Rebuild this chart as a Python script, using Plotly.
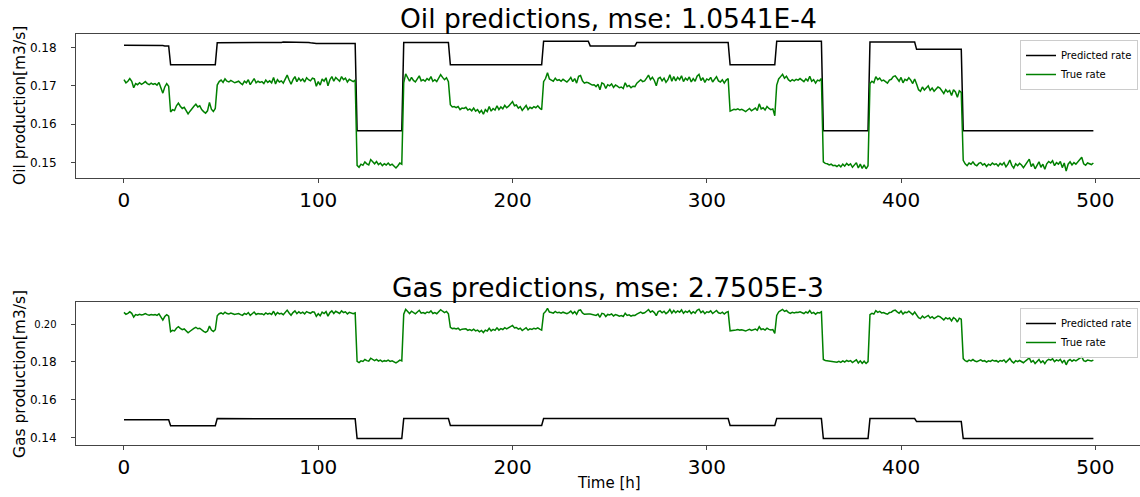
import plotly.graph_objects as go

hours = list(range(500))

oil_true = [
 0.1716,0.1708,0.1712,0.1719,0.1712,0.1695,0.1706,0.1703,0.1708,0.1704,0.1707,0.1711,0.1706,0.1703,0.1707,0.1704,0.1706,0.1702,0.1709,0.1694,0.1681,0.1697,0.1706,0.1699,
 0.1632,0.1638,0.1636,0.1648,0.1655,0.1647,0.1641,0.1644,0.1635,0.1627,0.1634,0.1642,0.1647,0.1652,0.1645,0.1648,0.1638,0.1633,0.1629,0.1635,0.1657,0.1639,0.1633,0.1641,
 0.1702,0.1711,0.1715,0.1709,0.1718,0.1712,0.1710,0.1714,0.1711,0.1708,0.1710,0.1712,0.1707,0.1703,0.1712,0.1708,0.1716,0.1703,0.1711,0.1719,0.1708,0.1712,0.1709,0.1711,
 0.1706,0.1715,0.1709,0.1713,0.1708,0.1722,0.1705,0.1716,0.1710,0.1713,0.1707,0.1719,0.1728,0.1715,0.1704,0.1716,0.1724,0.1711,0.1720,0.1713,0.1718,0.1710,0.1721,0.1716,
 0.1713,0.1720,0.1718,0.1699,0.1711,0.1702,0.1718,0.1712,0.1721,0.1700,0.1716,0.1724,0.1712,0.1722,0.1718,0.1712,0.1724,0.1716,0.1720,0.1710,0.1717,0.1714,0.1711,0.1715,
 0.1493,0.1488,0.1496,0.1493,0.1502,0.1497,0.1494,0.1508,0.1501,0.1497,0.1503,0.1495,0.1499,0.1492,0.1497,0.1494,0.1499,0.1493,0.1496,0.1490,0.1486,0.1492,0.1499,0.1496,
 0.1708,0.1731,0.1720,0.1712,0.1722,0.1714,0.1710,0.1719,0.1726,0.1713,0.1716,0.1712,0.1719,0.1715,0.1724,0.1712,0.1716,0.1711,0.1719,0.1729,0.1722,0.1716,0.1721,0.1711,
 0.1651,0.1645,0.1646,0.1643,0.1646,0.1638,0.1642,0.1641,0.1644,0.1637,0.1640,0.1635,0.1642,0.1634,0.1638,0.1630,0.1636,0.1626,0.1638,0.1633,0.1646,0.1634,0.1641,0.1637,
 0.1648,0.1638,0.1645,0.1640,0.1649,0.1643,0.1647,0.1652,0.1659,0.1648,0.1650,0.1642,0.1646,0.1636,0.1643,0.1649,0.1638,0.1644,0.1641,0.1646,0.1643,0.1648,0.1642,0.1638,
 0.1711,0.1719,0.1734,0.1718,0.1715,0.1712,0.1720,0.1714,0.1716,0.1712,0.1717,0.1714,0.1710,0.1715,0.1722,0.1711,0.1719,0.1707,0.1725,0.1727,0.1713,0.1707,0.1709,0.1708,
 0.1704,0.1702,0.1703,0.1698,0.1704,0.1690,0.1708,0.1705,0.1693,0.1703,0.1700,0.1705,0.1696,0.1702,0.1699,0.1695,0.1697,0.1693,0.1708,0.1698,0.1701,0.1695,0.1699,0.1698,
 0.1707,0.1712,0.1716,0.1711,0.1713,0.1720,0.1728,0.1716,0.1722,0.1714,0.1700,0.1719,0.1722,0.1713,0.1720,0.1709,0.1716,0.1729,0.1712,0.1724,0.1713,0.1722,0.1716,0.1726,
 0.1711,0.1720,0.1715,0.1723,0.1710,0.1719,0.1712,0.1725,0.1730,0.1714,0.1721,0.1709,0.1718,0.1715,0.1722,0.1710,0.1716,0.1724,0.1713,0.1710,0.1716,0.1707,0.1715,0.1719,
 0.1634,0.1636,0.1639,0.1638,0.1640,0.1637,0.1639,0.1636,0.1633,0.1637,0.1641,0.1635,0.1639,0.1642,0.1636,0.1653,0.1640,0.1643,0.1637,0.1646,0.1641,0.1638,0.1640,0.1622,
 0.1702,0.1718,0.1724,0.1730,0.1720,0.1725,0.1716,0.1712,0.1716,0.1713,0.1717,0.1715,0.1719,0.1714,0.1711,0.1718,0.1713,0.1725,0.1712,0.1716,0.1707,0.1715,0.1713,0.1719,
 0.1502,0.1498,0.1497,0.1494,0.1496,0.1492,0.1493,0.1490,0.1494,0.1489,0.1496,0.1491,0.1498,0.1493,0.1497,0.1488,0.1494,0.1500,0.1486,0.1496,0.1485,0.1494,0.1484,0.1492,
 0.1706,0.1712,0.1708,0.1724,0.1716,0.1720,0.1713,0.1715,0.1711,0.1707,0.1715,0.1717,0.1724,0.1726,0.1719,0.1712,0.1722,0.1708,0.1717,0.1714,0.1721,0.1715,0.1706,0.1718,
 0.1705,0.1690,0.1686,0.1697,0.1689,0.1694,0.1700,0.1688,0.1694,0.1686,0.1691,0.1697,0.1694,0.1687,0.1680,0.1690,0.1684,0.1688,0.1675,0.1690,0.1684,0.1670,0.1687,0.1683,
 0.1506,0.1497,0.1492,0.1499,0.1496,0.1502,0.1495,0.1492,0.1498,0.1500,0.1494,0.1497,0.1490,0.1496,0.1493,0.1499,0.1495,0.1497,0.1491,0.1498,0.1494,0.1500,0.1489,0.1496,
 0.1507,0.1493,0.1486,0.1497,0.1492,0.1498,0.1494,0.1487,0.1495,0.1500,0.1509,0.1490,0.1497,0.1484,0.1493,0.1502,0.1488,0.1496,0.1483,0.1497,0.1503,0.1499,0.1505,0.1492,
 0.1500,0.1496,0.1503,0.1487,0.1499,0.1478,0.1496,0.1502,0.1494,0.1500,0.1496,0.1503,0.1508,0.1514,0.1497,0.1493,0.1499,0.1496,0.1495,0.1499,
]

oil_pred = [
 0.1806,0.1806,0.1806,0.1806,0.1806,0.1805, 0.1805,0.1805,0.1805,0.1805,0.1805,0.1805, 0.1805,0.1805,0.1805,0.1805,0.1805,0.1805, 0.1805,0.1805,0.1805,0.1804,0.1804,0.1804,
 0.1755,0.1755,0.1755,0.1754,0.1755,0.1755, 0.1755,0.1755,0.1755,0.1755,0.1755,0.1755, 0.1755,0.1755,0.1755,0.1755,0.1755,0.1755, 0.1755,0.1755,0.1755,0.1755,0.1755,0.1755,
 0.1812,0.1812,0.1812,0.1812,0.1812,0.1812, 0.1812,0.1812,0.1812,0.1812,0.1812,0.1812, 0.1812,0.1812,0.1812,0.1812,0.1812,0.1812, 0.1812,0.1812,0.1813,0.1813,0.1813,0.1813,
 0.1813,0.1813,0.1813,0.1813,0.1813,0.1813, 0.1813,0.1813,0.1813,0.1813,0.1814,0.1814, 0.1814,0.1814,0.1814,0.1813,0.1813,0.1813, 0.1813,0.1813,0.1813,0.1813,0.1813,0.1813,
 0.1812,0.1811,0.1810,0.1810,0.1810,0.1810, 0.1810,0.1810,0.1810,0.1810,0.1810,0.1810, 0.1810,0.1810,0.1810,0.1810,0.1810,0.1810, 0.1810,0.1810,0.1810,0.1810,0.1810,0.1810,
 0.1583,0.1583,0.1583,0.1583,0.1583,0.1583, 0.1583,0.1583,0.1583,0.1583,0.1583,0.1583, 0.1583,0.1583,0.1583,0.1583,0.1583,0.1583, 0.1583,0.1583,0.1583,0.1583,0.1583,0.1583,
 0.1813,0.1813,0.1813,0.1813,0.1813,0.1813, 0.1813,0.1813,0.1813,0.1813,0.1813,0.1813, 0.1813,0.1813,0.1813,0.1813,0.1813,0.1813, 0.1813,0.1813,0.1813,0.1813,0.1813,0.1813,
 0.1755,0.1755,0.1755,0.1755,0.1755,0.1755, 0.1755,0.1755,0.1755,0.1755,0.1755,0.1755, 0.1755,0.1755,0.1755,0.1755,0.1755,0.1755, 0.1755,0.1755,0.1755,0.1755,0.1755,0.1755,
 0.1755,0.1755,0.1755,0.1755,0.1755,0.1755, 0.1755,0.1755,0.1755,0.1755,0.1755,0.1755, 0.1755,0.1755,0.1755,0.1755,0.1755,0.1755, 0.1755,0.1755,0.1755,0.1755,0.1755,0.1755,
 0.1816,0.1816,0.1816,0.1816,0.1816,0.1816, 0.1816,0.1816,0.1816,0.1816,0.1816,0.1816, 0.1816,0.1816,0.1816,0.1816,0.1816,0.1816, 0.1816,0.1816,0.1816,0.1816,0.1816,0.1816,
 0.1804,0.1804,0.1804,0.1804,0.1804,0.1804, 0.1804,0.1804,0.1804,0.1804,0.1804,0.1804, 0.1804,0.1804,0.1804,0.1804,0.1804,0.1804, 0.1804,0.1804,0.1804,0.1804,0.1804,0.1804,
 0.1813,0.1813,0.1813,0.1813,0.1813,0.1813, 0.1813,0.1813,0.1813,0.1813,0.1813,0.1813, 0.1813,0.1813,0.1813,0.1813,0.1813,0.1813, 0.1813,0.1813,0.1813,0.1813,0.1813,0.1813,
 0.1813,0.1813,0.1813,0.1813,0.1813,0.1813, 0.1813,0.1813,0.1813,0.1813,0.1813,0.1813, 0.1813,0.1813,0.1813,0.1813,0.1813,0.1813, 0.1813,0.1813,0.1813,0.1813,0.1813,0.1813,
 0.1755,0.1755,0.1755,0.1755,0.1755,0.1755, 0.1755,0.1755,0.1755,0.1755,0.1755,0.1755, 0.1755,0.1755,0.1755,0.1755,0.1755,0.1755, 0.1755,0.1755,0.1755,0.1755,0.1755,0.1755,
 0.1816,0.1816,0.1816,0.1816,0.1816,0.1816, 0.1816,0.1816,0.1816,0.1816,0.1816,0.1816, 0.1816,0.1816,0.1816,0.1816,0.1816,0.1816, 0.1816,0.1816,0.1816,0.1816,0.1816,0.1816,
 0.1583,0.1583,0.1583,0.1583,0.1583,0.1583, 0.1583,0.1583,0.1583,0.1583,0.1583,0.1583, 0.1583,0.1583,0.1583,0.1583,0.1583,0.1583, 0.1583,0.1583,0.1583,0.1583,0.1583,0.1583,
 0.1814,0.1814,0.1814,0.1814,0.1814,0.1814, 0.1814,0.1814,0.1814,0.1814,0.1814,0.1814, 0.1814,0.1814,0.1814,0.1814,0.1814,0.1814, 0.1814,0.1814,0.1814,0.1814,0.1814,0.1814,
 0.1795,0.1795,0.1795,0.1795,0.1795,0.1795, 0.1795,0.1795,0.1795,0.1795,0.1795,0.1795, 0.1795,0.1795,0.1795,0.1795,0.1795,0.1795, 0.1795,0.1795,0.1795,0.1795,0.1795,0.1795,
 0.1583,0.1583,0.1583,0.1583,0.1583,0.1583, 0.1583,0.1583,0.1583,0.1583,0.1583,0.1583, 0.1583,0.1583,0.1583,0.1583,0.1583,0.1583, 0.1583,0.1583,0.1583,0.1583,0.1583,0.1583,
 0.1583,0.1583,0.1583,0.1583,0.1583,0.1583, 0.1583,0.1583,0.1583,0.1583,0.1583,0.1583, 0.1583,0.1583,0.1583,0.1583,0.1583,0.1583, 0.1583,0.1583,0.1583,0.1583,0.1583,0.1583,
 0.1583,0.1583,0.1583,0.1583,0.1583,0.1583, 0.1583,0.1583,0.1583,0.1583,0.1583,0.1583, 0.1583,0.1583,0.1583,0.1583,0.1583,0.1583, 0.1583,0.1583,
]

gas_true = [
 0.2063,0.2053,0.2058,0.2066,0.2058,0.2038,0.2051,0.2048,0.2053,0.2049,0.2052,0.2057,0.2051,0.2048,0.2052,0.2049,0.2051,0.2047,0.2055,0.2037,0.2022,0.2041,0.2051,0.2043,
 0.1961,0.1968,0.1965,0.1979,0.1987,0.1978,0.1971,0.1975,0.1964,0.1955,0.1963,0.1972,0.1978,0.1984,0.1976,0.1979,0.1968,0.1962,0.1957,0.1964,0.1990,0.1969,0.1962,0.1971,
 0.2045,0.2056,0.2060,0.2054,0.2064,0.2057,0.2055,0.2059,0.2056,0.2052,0.2055,0.2057,0.2051,0.2047,0.2057,0.2052,0.2062,0.2047,0.2056,0.2065,0.2052,0.2057,0.2054,0.2056,
 0.2050,0.2060,0.2054,0.2058,0.2052,0.2069,0.2049,0.2062,0.2055,0.2058,0.2051,0.2065,0.2075,0.2060,0.2048,0.2062,0.2071,0.2056,0.2066,0.2058,0.2064,0.2055,0.2067,0.2062,
 0.2058,0.2066,0.2064,0.2042,0.2056,0.2045,0.2064,0.2057,0.2067,0.2043,0.2062,0.2071,0.2057,0.2069,0.2064,0.2057,0.2071,0.2062,0.2066,0.2055,0.2063,0.2059,0.2056,0.2060,
 0.1803,0.1797,0.1806,0.1803,0.1813,0.1807,0.1804,0.1820,0.1812,0.1807,0.1814,0.1805,0.1810,0.1802,0.1807,0.1804,0.1810,0.1803,0.1806,0.1799,0.1795,0.1802,0.1810,0.1806,
 0.2053,0.2079,0.2067,0.2057,0.2069,0.2060,0.2055,0.2065,0.2074,0.2059,0.2062,0.2057,0.2065,0.2061,0.2071,0.2057,0.2062,0.2056,0.2065,0.2077,0.2069,0.2062,0.2068,0.2056,
 0.1984,0.1977,0.1979,0.1975,0.1979,0.1969,0.1974,0.1973,0.1976,0.1968,0.1972,0.1966,0.1974,0.1965,0.1969,0.1960,0.1967,0.1956,0.1969,0.1964,0.1979,0.1965,0.1973,0.1968,
 0.1981,0.1969,0.1977,0.1972,0.1982,0.1975,0.1980,0.1986,0.1994,0.1981,0.1983,0.1974,0.1979,0.1967,0.1975,0.1982,0.1969,0.1976,0.1973,0.1979,0.1975,0.1981,0.1974,0.1969,
 0.2057,0.2067,0.2084,0.2065,0.2062,0.2059,0.2068,0.2061,0.2063,0.2059,0.2064,0.2061,0.2056,0.2062,0.2070,0.2057,0.2067,0.2053,0.2074,0.2076,0.2060,0.2053,0.2055,0.2054,
 0.2054,0.2051,0.2052,0.2047,0.2054,0.2037,0.2058,0.2055,0.2041,0.2052,0.2049,0.2055,0.2044,0.2051,0.2048,0.2043,0.2046,0.2041,0.2058,0.2047,0.2050,0.2043,0.2048,0.2047,
 0.2054,0.2059,0.2064,0.2058,0.2061,0.2069,0.2078,0.2064,0.2071,0.2062,0.2046,0.2067,0.2071,0.2061,0.2069,0.2056,0.2064,0.2079,0.2059,0.2073,0.2061,0.2071,0.2064,0.2076,
 0.2058,0.2069,0.2063,0.2072,0.2057,0.2067,0.2059,0.2074,0.2080,0.2062,0.2070,0.2056,0.2066,0.2063,0.2071,0.2057,0.2064,0.2073,0.2061,0.2057,0.2064,0.2054,0.2063,0.2067,
 0.1965,0.1968,0.1971,0.1970,0.1972,0.1969,0.1971,0.1968,0.1964,0.1969,0.1973,0.1967,0.1971,0.1975,0.1968,0.1987,0.1972,0.1976,0.1969,0.1979,0.1973,0.1970,0.1972,0.1952,
 0.2047,0.2065,0.2072,0.2079,0.2068,0.2073,0.2063,0.2058,0.2063,0.2060,0.2064,0.2062,0.2066,0.2061,0.2057,0.2065,0.2060,0.2073,0.2058,0.2063,0.2053,0.2062,0.2060,0.2066,
 0.1813,0.1808,0.1807,0.1804,0.1806,0.1802,0.1803,0.1799,0.1804,0.1798,0.1806,0.1800,0.1808,0.1803,0.1807,0.1797,0.1804,0.1811,0.1795,0.1806,0.1793,0.1804,0.1792,0.1802,
 0.2051,0.2058,0.2054,0.2072,0.2063,0.2068,0.2060,0.2062,0.2057,0.2053,0.2062,0.2064,0.2072,0.2075,0.2066,0.2058,0.2070,0.2054,0.2064,0.2061,0.2069,0.2062,0.2051,0.2065,
 0.2052,0.2035,0.2030,0.2043,0.2034,0.2040,0.2047,0.2033,0.2040,0.2030,0.2036,0.2043,0.2040,0.2032,0.2023,0.2035,0.2028,0.2033,0.2018,0.2035,0.2028,0.2012,0.2032,0.2027,
 0.1818,0.1807,0.1802,0.1810,0.1806,0.1813,0.1805,0.1802,0.1808,0.1811,
 0.1804,0.1807,0.1799,0.1806,0.1803,0.1810,0.1805,0.1807,0.1800,0.1808,
 0.1804,0.1811,0.1798,0.1806,0.1819,0.1803,0.1795,0.1807,0.1802,0.1808,
 0.1804,0.1796,0.1805,0.1811,0.1821,0.1799,0.1807,0.1792,0.1803,0.1813,
 0.1797,0.1806,0.1791,0.1807,0.1814,0.1810,0.1817,0.1802,0.1811,0.1806,
 0.1814,0.1796,0.1810,0.1785,0.1806,0.1813,0.1804,0.1811,0.1806,0.1814,
 0.1820,0.1827,0.1807,0.1803,0.1810,0.1806,0.1805,0.1810,
]

gas_pred = [
 0.1494,0.1494,0.1494,0.1494,0.1494,0.1494, 0.1494,0.1494,0.1494,0.1494,0.1494,0.1494, 0.1494,0.1494,0.1494,0.1494,0.1494,0.1494, 0.1494,0.1494,0.1494,0.1494,0.1494,0.1494,
 0.1462,0.1462,0.1462,0.1462,0.1462,0.1462, 0.1462,0.1462,0.1462,0.1462,0.1462,0.1462, 0.1462,0.1462,0.1462,0.1462,0.1462,0.1462, 0.1462,0.1462,0.1462,0.1462,0.1462,0.1462,
 0.1500,0.1500,0.1500,0.1500,0.1500,0.1500, 0.1500,0.1500,0.1500,0.1500,0.1500,0.1500, 0.1500,0.1500,0.1500,0.1500,0.1500,0.1500, 0.1500,0.1500,0.1500,0.1500,0.1500,0.1500,
 0.1500,0.1500,0.1500,0.1500,0.1500,0.1500, 0.1500,0.1500,0.1500,0.1500,0.1500,0.1500, 0.1500,0.1500,0.1500,0.1500,0.1500,0.1500, 0.1500,0.1500,0.1500,0.1500,0.1500,0.1500,
 0.1500,0.1500,0.1499,0.1499,0.1499,0.1499, 0.1499,0.1499,0.1499,0.1499,0.1499,0.1499, 0.1499,0.1499,0.1499,0.1499,0.1499,0.1499, 0.1499,0.1499,0.1499,0.1499,0.1499,0.1499,
 0.1394,0.1394,0.1394,0.1394,0.1394,0.1394, 0.1394,0.1394,0.1394,0.1394,0.1394,0.1394, 0.1394,0.1394,0.1394,0.1394,0.1394,0.1394, 0.1394,0.1394,0.1394,0.1394,0.1394,0.1394,
 0.1500,0.1500,0.1500,0.1500,0.1500,0.1500, 0.1500,0.1500,0.1500,0.1500,0.1500,0.1500, 0.1500,0.1500,0.1500,0.1500,0.1500,0.1500, 0.1500,0.1500,0.1500,0.1500,0.1500,0.1500,
 0.1464,0.1464,0.1464,0.1464,0.1464,0.1464, 0.1464,0.1464,0.1464,0.1464,0.1464,0.1464, 0.1464,0.1464,0.1464,0.1464,0.1464,0.1464, 0.1464,0.1464,0.1464,0.1464,0.1464,0.1464,
 0.1464,0.1464,0.1464,0.1464,0.1464,0.1464, 0.1464,0.1464,0.1464,0.1464,0.1464,0.1464, 0.1464,0.1464,0.1464,0.1464,0.1464,0.1464, 0.1464,0.1464,0.1464,0.1464,0.1464,0.1464,
 0.1500,0.1500,0.1500,0.1500,0.1500,0.1500, 0.1500,0.1500,0.1500,0.1500,0.1500,0.1500, 0.1500,0.1500,0.1500,0.1500,0.1500,0.1500, 0.1500,0.1500,0.1500,0.1500,0.1500,0.1500,
 0.1497,0.1497,0.1497,0.1497,0.1497,0.1497, 0.1497,0.1497,0.1497,0.1497,0.1497,0.1497, 0.1497,0.1497,0.1497,0.1497,0.1497,0.1497, 0.1497,0.1497,0.1497,0.1497,0.1497,0.1497,
 0.1500,0.1500,0.1500,0.1500,0.1500,0.1500, 0.1500,0.1500,0.1500,0.1500,0.1500,0.1500, 0.1500,0.1500,0.1500,0.1500,0.1500,0.1500, 0.1500,0.1500,0.1500,0.1500,0.1500,0.1500,
 0.1500,0.1500,0.1500,0.1500,0.1500,0.1500, 0.1500,0.1500,0.1500,0.1500,0.1500,0.1500, 0.1500,0.1500,0.1500,0.1500,0.1500,0.1500, 0.1500,0.1500,0.1500,0.1500,0.1500,0.1500,
 0.1464,0.1464,0.1464,0.1464,0.1464,0.1464, 0.1464,0.1464,0.1464,0.1464,0.1464,0.1464, 0.1464,0.1464,0.1464,0.1464,0.1464,0.1464, 0.1464,0.1464,0.1464,0.1464,0.1464,0.1464,
 0.1500,0.1500,0.1500,0.1500,0.1500,0.1500, 0.1500,0.1500,0.1500,0.1500,0.1500,0.1500, 0.1500,0.1500,0.1500,0.1500,0.1500,0.1500, 0.1500,0.1500,0.1500,0.1500,0.1500,0.1500,
 0.1394,0.1394,0.1394,0.1394,0.1394,0.1394, 0.1394,0.1394,0.1394,0.1394,0.1394,0.1394, 0.1394,0.1394,0.1394,0.1394,0.1394,0.1394, 0.1394,0.1394,0.1394,0.1394,0.1394,0.1394,
 0.1500,0.1500,0.1500,0.1500,0.1500,0.1500, 0.1500,0.1500,0.1500,0.1500,0.1500,0.1500, 0.1500,0.1500,0.1500,0.1500,0.1500,0.1500, 0.1500,0.1500,0.1500,0.1500,0.1500,0.1500,
 0.1484,0.1484,0.1484,0.1484,0.1484,0.1484, 0.1484,0.1484,0.1484,0.1484,0.1484,0.1484, 0.1484,0.1484,0.1484,0.1484,0.1484,0.1484, 0.1484,0.1484,0.1484,0.1484,0.1484,0.1484,
 0.1394,0.1394,0.1394,0.1394,0.1394,0.1394, 0.1394,0.1394,0.1394,0.1394,0.1394,0.1394, 0.1394,0.1394,0.1394,0.1394,0.1394,0.1394, 0.1394,0.1394,0.1394,0.1394,0.1394,0.1394,
 0.1394,0.1394,0.1394,0.1394,0.1394,0.1394, 0.1394,0.1394,0.1394,0.1394,0.1394,0.1394, 0.1394,0.1394,0.1394,0.1394,0.1394,0.1394, 0.1394,0.1394,0.1394,0.1394,0.1394,0.1394,
 0.1394,0.1394,0.1394,0.1394,0.1394,0.1394, 0.1394,0.1394,0.1394,0.1394,0.1394,0.1394, 0.1394,0.1394,0.1394,0.1394,0.1394,0.1394, 0.1394,0.1394,
]

x_ticks = [0, 100, 200, 300, 400, 500]
oil_ticks = [0.15, 0.16, 0.17, 0.18]
oil_ticktext = ["0.15", "0.16", "0.17", "0.18"]
gas_ticks = [0.14, 0.16, 0.18, 0.20]
gas_ticktext = ["0.14", "0.16", "0.18", "<span style='font-size:10px'>0.20</span>"]

titles = ["Oil predictions, mse: 1.0541E-4", "Gas predictions, mse: 2.7505E-3"]
ylabels = ["Oil production[m3/s]", "Gas production[m3/s]"]
xlabel = "Time [h]"

for arr in (oil_true, oil_pred, gas_true, gas_pred):
    assert len(arr) == 500, len(arr)

FONT = "DejaVu Sans"
GREEN = "#008000"
SPINE = "#444444"

fig = go.Figure()
fig.add_trace(go.Scatter(x=hours, y=oil_pred, mode="lines", name="Predicted rate",
                         line=dict(color="black", width=1.5), xaxis="x", yaxis="y", legend="legend"))
fig.add_trace(go.Scatter(x=hours, y=oil_true, mode="lines", name="True rate",
                         line=dict(color=GREEN, width=1.5), xaxis="x", yaxis="y", legend="legend"))
fig.add_trace(go.Scatter(x=hours, y=gas_pred, mode="lines", name="Predicted rate",
                         line=dict(color="black", width=1.5), xaxis="x2", yaxis="y2", legend="legend2"))
fig.add_trace(go.Scatter(x=hours, y=gas_true, mode="lines", name="True rate",
                         line=dict(color=GREEN, width=1.5), xaxis="x2", yaxis="y2", legend="legend2"))

H_PLOT = 411.0
W_PLOT = 1064.0
top_dom = [(445 - 178) / H_PLOT, 1.0]
bot_dom = [0.0, (445 - 302) / H_PLOT]

xcommon = dict(range=[-24.7, 523.0], tickvals=x_ticks, tickfont=dict(size=20, color="black"),
               showline=True, linecolor=SPINE, linewidth=1, mirror=True, ticks="outside",
               ticklen=4, tickcolor=SPINE, showgrid=False, zeroline=False, domain=[0, 1])
ycommon = dict(tickfont=dict(size=12, color="black"), showline=True, linecolor=SPINE, linewidth=1,
               mirror=False, ticks="outside", ticklen=4, tickcolor=SPINE, showgrid=False,
               zeroline=False, ticklabelstandoff=12)

legcommon = dict(xanchor="right", yanchor="top", x=(1138 - 76) / W_PLOT, bgcolor="rgba(255,255,255,0.8)",
                 bordercolor="#cccccc", borderwidth=1, font=dict(size=10, family=FONT, color="black"),
                 tracegroupgap=0, itemwidth=30)

fig.update_layout(
    width=1140, height=497,
    margin=dict(l=76, r=0, t=34, b=52),
    paper_bgcolor="white", plot_bgcolor="white",
    font=dict(family=FONT, color="black"),
    showlegend=True,
    xaxis=dict(anchor="y", **xcommon),
    xaxis2=dict(anchor="y2", **xcommon),
    yaxis=dict(anchor="x", domain=top_dom, range=[0.146, 0.1835], tickvals=oil_ticks,
               ticktext=oil_ticktext, **ycommon),
    yaxis2=dict(anchor="x2", domain=bot_dom, range=[0.136, 0.2118], tickvals=gas_ticks,
                ticktext=gas_ticktext, **ycommon),
    legend=dict(y=1 - 6 / H_PLOT, **legcommon),
    legend2=dict(y=(445 - 308) / H_PLOT, **legcommon),
)

ann = []
ann.append(dict(text=titles[0], x=0.5, y=1 + (34 - 19) / H_PLOT, xref="paper", yref="paper",
                showarrow=False, xanchor="center", yanchor="middle", font=dict(size=26.5, family=FONT)))
ann.append(dict(text=titles[1], x=0.5, y=(445 - 287) / H_PLOT, xref="paper", yref="paper",
                showarrow=False, xanchor="center", yanchor="middle", font=dict(size=26.5, family=FONT)))
ann.append(dict(text=ylabels[0], x=(20 - 76) / W_PLOT, y=(445 - 106) / H_PLOT, xref="paper", yref="paper",
                showarrow=False, xanchor="center", yanchor="middle", textangle=-90,
                font=dict(size=15.5, family=FONT)))
ann.append(dict(text=ylabels[1], x=(20 - 76) / W_PLOT, y=(445 - 374) / H_PLOT, xref="paper", yref="paper",
                showarrow=False, xanchor="center", yanchor="middle", textangle=-90,
                font=dict(size=15.5, family=FONT)))
ann.append(dict(text=xlabel, x=(609 - 76) / W_PLOT, y=-(483 - 445) / H_PLOT, xref="paper", yref="paper",
                showarrow=False, xanchor="center", yanchor="middle", font=dict(size=15, family=FONT)))
fig.update_layout(annotations=ann)

fig.write_html("out.html", config={"displayModeBar": False},
               post_script="document.body.style.margin='0px';document.body.style.padding='0px';")
